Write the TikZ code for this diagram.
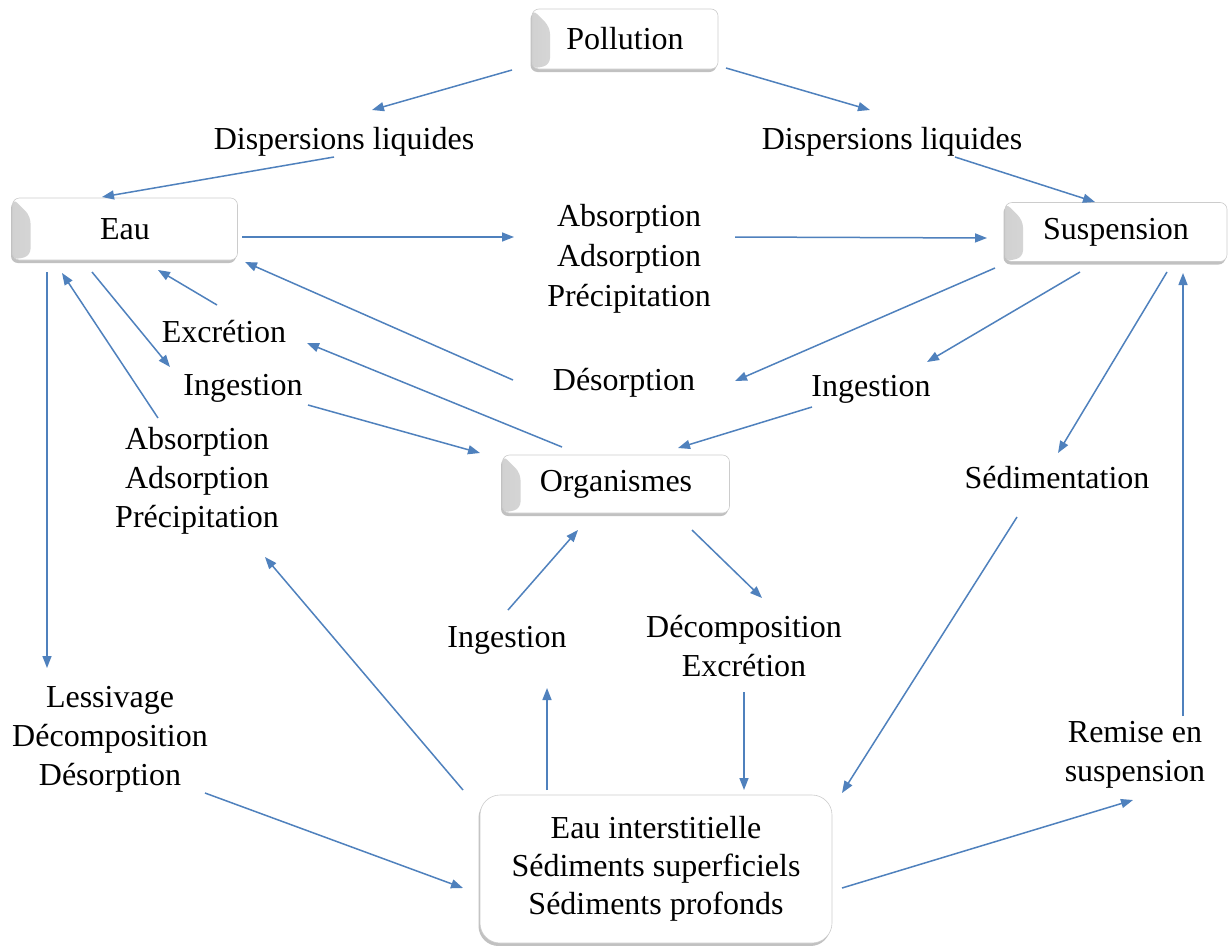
\documentclass[tikz,border=0pt]{standalone}
\usepackage{fontspec}
\setmainfont{Liberation Serif}
\usetikzlibrary{arrows.meta,shadows}
\definecolor{flowblue}{RGB}{79,129,189}
\begin{document}
\begin{tikzpicture}[x=1pt,y=-1pt,
  every node/.style={font=\fontsize{32}{39}\selectfont, align=center, inner sep=0pt},
  flow/.style={draw=flowblue, line width=1.5pt, -{Triangle[length=12pt,width=9pt]}},
  panel/.style={rectangle, rounded corners=7pt, draw=black!20, line width=0.6pt, fill=white,
    drop shadow={shadow xshift=-1.5pt, shadow yshift=-3pt, opacity=0.4, fill=black!60}},
  bevel/.style={panel,
    path picture={\shade[left color=black!18, right color=white]
      (path picture bounding box.north west) -- ++(18,18)
      -- ([xshift=18pt,yshift=4pt]path picture bounding box.south west)
      -- (path picture bounding box.south west) -- cycle;}},
  bigpanel/.style={panel, rounded corners=20pt}
]
\fill[white] (0,0) rectangle (1230,945);
\useasboundingbox (0,0) rectangle (1230,945);

% compartments
\node[bevel, minimum width=186pt, minimum height=60pt] (pol) at (625,39) {Pollution};
\node[bevel, minimum width=225pt, minimum height=62pt] (eau) at (125,229) {Eau};
\node[bevel, minimum width=222pt, minimum height=59pt] (susp) at (1116,232) {Suspension};
\node[bevel, minimum width=227pt, minimum height=58pt] (org) at (616,484) {Organismes};
\node[bigpanel, minimum width=352pt, minimum height=148pt] (sed) at (656,869)
  {Eau interstitielle\\[-1pt]Sédiments superficiels\\[-1pt]Sédiments profonds};

% process labels
\node (dl) at (344,142) {Dispersions liquides};
\node (dr) at (892,142) {Dispersions liquides};
\node (absc) at (629,259) {Absorption\\[1pt]Adsorption\\[1pt]Précipitation};
\node (desc) at (624,383) {Désorption};
\node (exc) at (224,332) {Excrétion};
\node (ingl) at (243,388) {Ingestion};
\node (ingr) at (871,389) {Ingestion};
\node (absl) at (197,481) {Absorption\\Adsorption\\Précipitation};
\node (sedim) at (1057,478) {Sédimentation};
\node (ingb) at (507,640) {Ingestion};
\node (dec) at (744,646) {Décomposition\\Excrétion};
\node (less) at (110,739) {Lessivage\\Décomposition\\Désorption};
\node (rem) at (1135,755) {Remise en\\suspension};

% transfers
\draw[flow] ([shift={(-113,31)}]pol.center) -- ([shift={(28,-32)}]dl.center);
\draw[flow] ([shift={(-10,15)}]dl.center) -- ([shift={(-23,-32)}]eau.center);
\draw[flow] ([shift={(101,29)}]pol.center) -- ([shift={(-22,-32)}]dr.center);
\draw[flow] ([shift={(63,15)}]dr.center) -- ([shift={(-21,-30)}]susp.center);
\draw[flow] ([shift={(117,8)}]eau.center) -- ([shift={(-115,-22)}]absc.center);
\draw[flow] ([shift={(106,-22)}]absc.center) -- ([shift={(-129,6)}]susp.center);
\draw[flow] ([shift={(-121,36)}]susp.center) -- ([shift={(111,-2)}]desc.center);
\draw[flow] ([shift={(-36,40)}]susp.center) -- ([shift={(56,-27)}]ingr.center);
\draw[flow] ([shift={(-59,18)}]ingr.center) -- ([shift={(62,-36)}]org.center);
\draw[flow] ([shift={(-111,-3)}]desc.center) -- ([shift={(120,33)}]eau.center);
\draw[flow] ([shift={(-54,-37)}]org.center) -- ([shift={(83,11)}]exc.center);
\draw[flow] ([shift={(-7,-27)}]exc.center) -- ([shift={(33,41)}]eau.center);
\draw[flow] ([shift={(-33,43)}]eau.center) -- ([shift={(-73,-21)}]ingl.center);
\draw[flow] ([shift={(65,17)}]ingl.center) -- ([shift={(-136,-31)}]org.center);
\draw[flow] ([shift={(-39,-63)}]absl.center) -- ([shift={(-63,44)}]eau.center);
\draw[flow] ([shift={(-78,43)}]eau.center) -- ([shift={(-63,-71)}]less.center);
\draw[flow] ([shift={(95,54)}]less.center) -- ([shift={(-193,19)}]sed.center);
\draw[flow] ([shift={(-193,-79)}]sed.center) -- ([shift={(68,76)}]absl.center);
\draw[flow] ([shift={(-109,-79)}]sed.center) -- ([shift={(40,48)}]ingb.center);
\draw[flow] ([shift={(1,-30)}]ingb.center) -- ([shift={(-38,46)}]org.center);
\draw[flow] ([shift={(76,46)}]org.center) -- ([shift={(18,-48)}]dec.center);
\draw[flow] ([shift={(0,46)}]dec.center) -- ([shift={(88,-79)}]sed.center);
\draw[flow] ([shift={(-40,39)}]sedim.center) -- ([shift={(186,-76)}]sed.center);
\draw[flow] ([shift={(51,40)}]susp.center) -- ([shift={(1,-25)}]sedim.center);
\draw[flow] ([shift={(48,-39)}]rem.center) -- ([shift={(67,41)}]susp.center);
\draw[flow] ([shift={(186,19)}]sed.center) -- ([shift={(-2,45)}]rem.center);
\end{tikzpicture}
\end{document}
